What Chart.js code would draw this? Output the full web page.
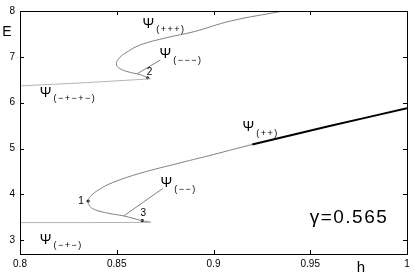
<!DOCTYPE html>
<html>
<head>
<meta charset="utf-8">
<script src="https://cdn.jsdelivr.net/npm/chart.js@4/dist/chart.umd.min.js"></script>
<style>
  html, body { margin: 0; padding: 0; background: #fff; }
  #wrap { width: 415px; height: 277px; }
</style>
</head>
<body>
<div id="wrap"><canvas id="energy"></canvas></div>
<script>
// tick labels
const hTicks = [0.8, 0.85, 0.9, 0.95, 1];
const eTicks = [3, 4, 5, 6, 7, 8];

// branch psi(-+-), nearly flat at the bottom
const lowFlatH = [0.8, 0.835, 0.8675];
const lowFlatE = [3.385, 3.385, 3.39];

// lower fold: from point 3, round the turning point 1, up to psi(++)
const lowFoldH = [0.8675, 0.8632, 0.8536, 0.8455, 0.8385, 0.8358, 0.8352, 0.8365, 0.8410, 0.8480, 0.8620, 0.8830, 0.9000, 0.9200];
const lowFoldE = [3.395, 3.426, 3.53, 3.59, 3.67, 3.76, 3.856, 3.96, 4.11, 4.26, 4.46, 4.69, 4.87, 5.09];

// stable part of psi(++), thick
const stableH = [0.92, 0.96, 1.0];
const stableE = [5.09, 5.49, 5.88];

// pointer branch to psi(--)
const lowSpurH = [0.8536, 0.8738];
const lowSpurE = [3.53, 4.13];

// branch psi(-+-+-)
const upFlatH = [0.8, 0.835, 0.8674];
const upFlatE = [6.366, 6.44, 6.52];

// upper fold: from point 2, round the tip, up to psi(+++)
const upFoldH = [0.8674, 0.8659, 0.8622, 0.8553, 0.8510, 0.8498, 0.8508, 0.8540, 0.8622, 0.8760, 0.8900, 0.9087, 0.9360];
const upFoldE = [6.52, 6.544, 6.61, 6.68, 6.76, 6.845, 6.95, 7.07, 7.26, 7.42, 7.55, 7.78, 8.0];

// pointer branch to psi(---)
const upSpurH = [0.8605, 0.8725];
const upSpurE = [6.63, 6.93];

// marked turning points 1, 2, 3
const markNames = ['1', '2', '3'];
const markH = [0.8352, 0.8659, 0.8632];
const markE = [3.856, 6.544, 3.426];

// branch names
const branchNames = ['(+++)', '(\u2212\u2212\u2212)', '(\u2212+\u2212+\u2212)', '(++)', '(\u2212\u2212)', '(\u2212+\u2212)'];
const branchH = [0.8663, 0.8751, 0.8132, 0.9180, 0.8756, 0.8132];
const branchE = [7.72, 7.054, 6.215, 5.46, 4.237, 3.01];

const FONT = '"Liberation Sans", Arial, Helvetica, sans-serif';

function pts(xs, ys) {
    return xs.map((x, i) => ({ x: x, y: ys[i] }));
}

function line(xs, ys, color, width, tension) {
    return {
        data: pts(xs, ys),
        showLine: true,
        borderColor: color,
        borderWidth: width,
        pointRadius: 0,
        tension: tension
    };
}

// inward ticks on all four sides + frame, and all the text in the plot
const matlabFrame = {
    id: 'matlabFrame',
    afterDraw(chart) {
        const ctx = chart.ctx;
        const a = chart.chartArea;
        const xs = chart.scales.x;
        const ys = chart.scales.y;
        const len = 4;
        ctx.save();
        ctx.strokeStyle = '#000';
        ctx.lineWidth = 1;
        ctx.beginPath();
        hTicks.forEach(v => {
            const p = Math.round(xs.getPixelForValue(v)) + 0.5;
            ctx.moveTo(p, a.bottom); ctx.lineTo(p, a.bottom - len);
            ctx.moveTo(p, a.top); ctx.lineTo(p, a.top + len);
        });
        eTicks.forEach(v => {
            const p = Math.round(ys.getPixelForValue(v)) + 0.5;
            ctx.moveTo(a.left, p); ctx.lineTo(a.left + len, p);
            ctx.moveTo(a.right, p); ctx.lineTo(a.right - len, p);
        });
        ctx.stroke();
        ctx.strokeRect(Math.round(a.left) + 0.5, Math.round(a.top) + 0.5,
                       Math.round(a.right - a.left), Math.round(a.bottom - a.top));

        ctx.fillStyle = '#000';
        ctx.textBaseline = 'middle';

        // axis names
        ctx.textAlign = 'center';
        ctx.font = '14px ' + FONT;
        ctx.fillText('E', 7, 32);
        ctx.font = '15px ' + FONT;
        ctx.fillText('h', 361, 268);

        // branch names: Psi with a spaced subscript
        branchNames.forEach((s, i) => {
            const px = xs.getPixelForValue(branchH[i]);
            const py = ys.getPixelForValue(branchE[i]);
            ctx.textAlign = 'center';
            ctx.font = '14px ' + FONT;
            ctx.fillText('\u03A8', px, py);
            ctx.textAlign = 'left';
            ctx.font = '9px ' + FONT;
            ctx.letterSpacing = '1.5px';
            ctx.fillText(s, px + 8, py + 6);
            ctx.letterSpacing = '0px';
        });

        // turning point numbers
        ctx.font = '10px ' + FONT;
        ctx.textAlign = 'center';
        const offs = [[-7, 0], [2, -6], [1, -7]];
        markNames.forEach((s, i) => {
            const px = xs.getPixelForValue(markH[i]);
            const py = ys.getPixelForValue(markE[i]);
            ctx.fillText(s, px + offs[i][0], py + offs[i][1]);
        });

        // gamma value
        ctx.font = '19px ' + FONT;
        ctx.letterSpacing = '1.5px';
        ctx.textAlign = 'center';
        ctx.fillText('\u03B3=0.565', 349, 218);
        ctx.letterSpacing = '0px';
        ctx.restore();
    }
};

const ctx = document.getElementById('energy').getContext('2d');
const myChart = new Chart(ctx, {
    type: 'scatter',
    data: {
        datasets: [
            line(lowFlatH, lowFlatE, '#b4b4b4', 1, 0),
            line(upFlatH, upFlatE, '#b4b4b4', 1, 0.3),
            line(lowFoldH, lowFoldE, '#808080', 1, 0.4),
            line(upFoldH, upFoldE, '#808080', 1, 0.4),
            line(stableH, stableE, '#000000', 2, 0.3),
            line(lowSpurH, lowSpurE, '#808080', 1, 0),
            line(upSpurH, upSpurE, '#808080', 1, 0),
            {
                data: pts(markH, markE),
                showLine: false,
                pointRadius: 1.6,
                pointBackgroundColor: '#000',
                pointBorderWidth: 0
            }
        ]
    },
    options: {
        responsive: true,
        maintainAspectRatio: false,
        animation: false,
        events: [],
        layout: { padding: { top: 8, right: 8, left: 0, bottom: 0 } },
        plugins: {
            legend: { display: false },
            tooltip: { enabled: false }
        },
        scales: {
            x: {
                type: 'linear',
                min: 0.8,
                max: 1.0,
                grid: { display: false, drawTicks: false },
                border: { display: false },
                afterBuildTicks: s => { s.ticks = hTicks.map(v => ({ value: v })); },
                afterFit: s => { s.height = 23; },
                ticks: {
                    padding: 4,
                    color: '#000',
                    font: { family: FONT, size: 10 },
                    callback: v => String(+v.toFixed(2))
                }
            },
            y: {
                type: 'linear',
                min: 2.7,
                max: 8,
                grid: { display: false, drawTicks: false },
                border: { display: false },
                afterBuildTicks: s => { s.ticks = eTicks.map(v => ({ value: v })); },
                afterFit: s => { s.width = 20; },
                ticks: {
                    padding: 5,
                    color: '#000',
                    font: { family: FONT, size: 10 },
                    callback: v => String(v)
                }
            }
        }
    },
    plugins: [matlabFrame]
});
</script>
</body>
</html>
